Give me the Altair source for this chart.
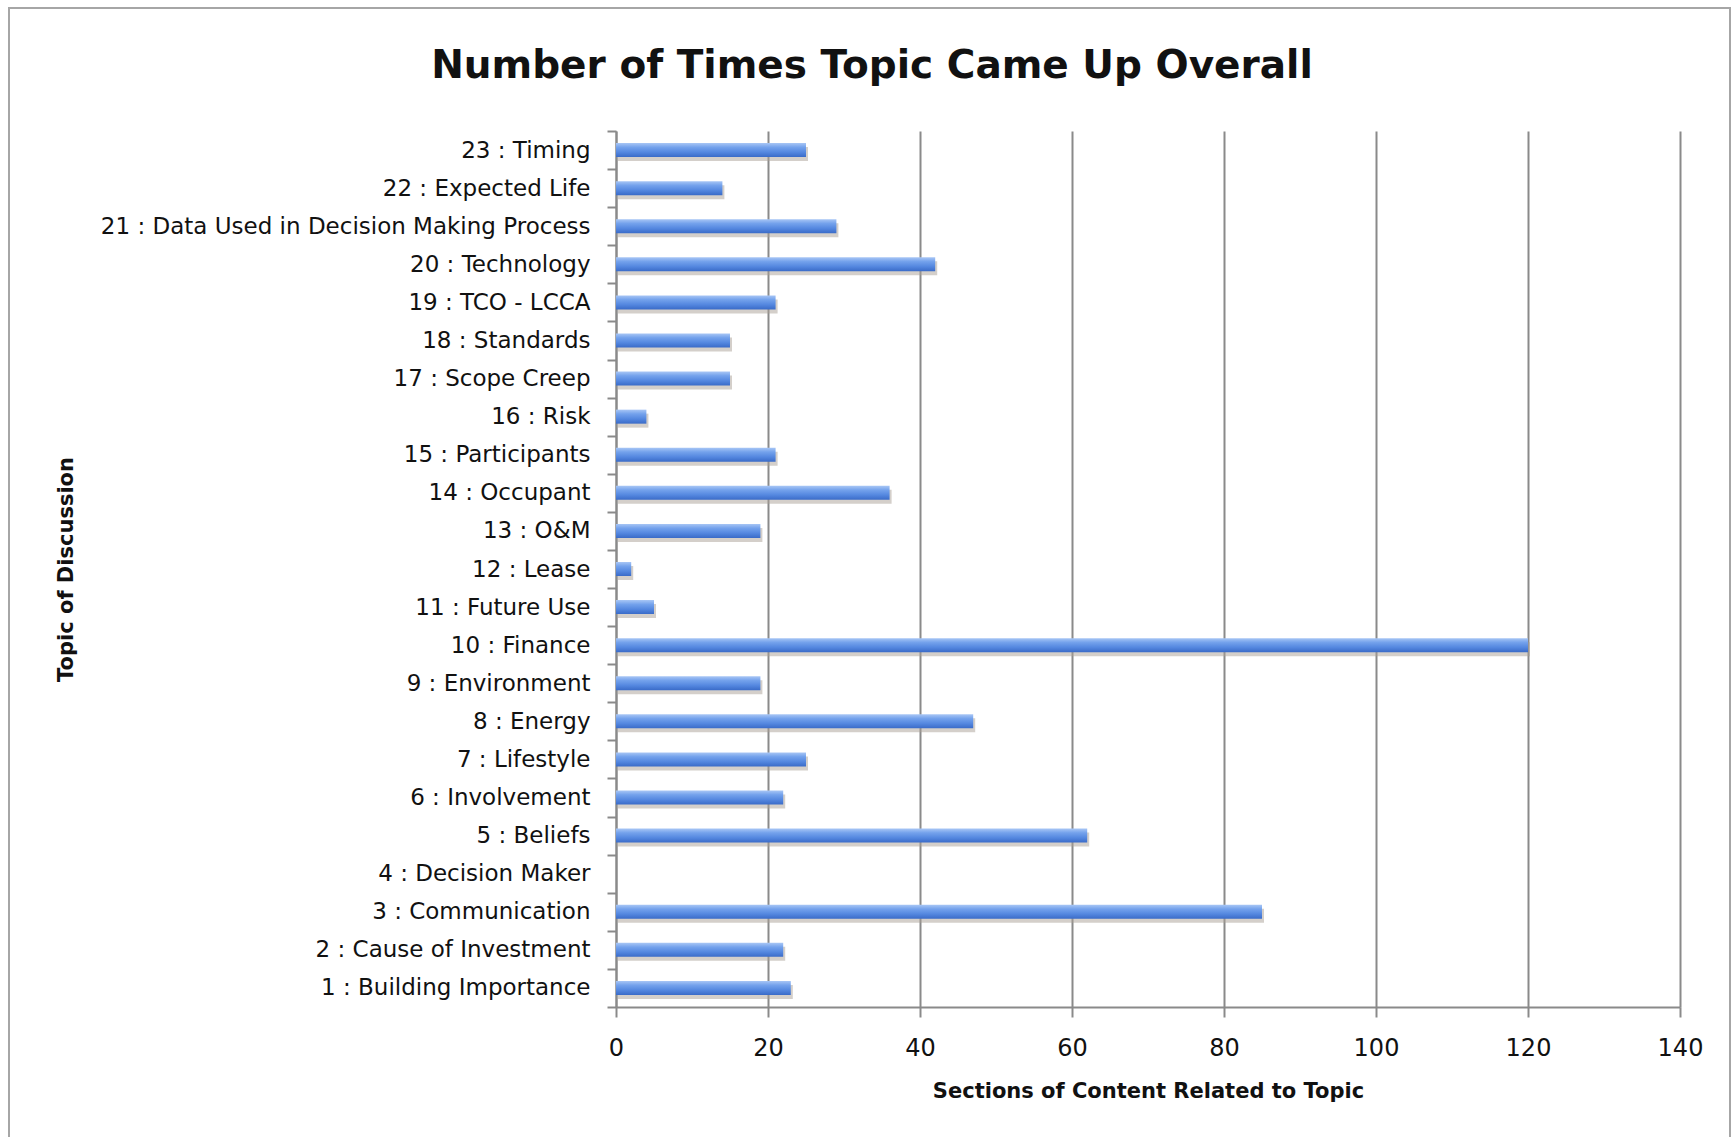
import altair as alt
import pandas as pd

topics = ["1 : Building Importance", "2 : Cause of Investment", "3 : Communication",
          "4 : Decision Maker", "5 : Beliefs", "6 : Involvement", "7 : Lifestyle",
          "8 : Energy", "9 : Environment", "10 : Finance", "11 : Future Use",
          "12 : Lease", "13 : O&M", "14 : Occupant", "15 : Participants", "16 : Risk",
          "17 : Scope Creep", "18 : Standards", "19 : TCO - LCCA", "20 : Technology",
          "21 : Data Used in Decision Making Process", "22 : Expected Life", "23 : Timing"]
counts = [23, 22, 85, 0, 62, 22, 25, 47, 19, 120, 5, 2, 19, 36, 21, 4, 15, 15, 21, 42, 29, 14, 25]
x_ticks = [0, 20, 40, 60, 80, 100, 120, 140]

df = pd.DataFrame({"topic": topics, "count": counts})
order = topics[::-1]

FONT = "DejaVu Sans"
GRID = "#8a8a8a"

x_enc = alt.X("count:Q", scale=alt.Scale(domain=[0, 140], nice=False),
              axis=alt.Axis(values=x_ticks, title="Sections of Content Related to Topic",
                            grid=True, gridColor=GRID, gridWidth=2,
                            domainColor=GRID, domainWidth=2, tickColor=GRID, tickWidth=2,
                            tickSize=10, labelFontSize=24, labelPadding=19, labelFlush=False,
                            labelColor="#111111", labelFont=FONT,
                            titleFont=FONT, titleFontSize=21, titleFontWeight="bold",
                            titleColor="#111111", titlePadding=20))
y_enc = alt.Y("topic:N", sort=order, scale=alt.Scale(paddingInner=0, paddingOuter=0),
              axis=alt.Axis(title="Topic of Discussion", tickBand="extent",
                            domainColor=GRID, domainWidth=2, tickColor=GRID, tickWidth=2,
                            tickSize=9, labelFontSize=23, labelPadding=17,
                            labelColor="#111111", labelFont=FONT, labelLimit=0,
                            titleFont=FONT, titleFontSize=21, titleFontWeight="bold",
                            titleColor="#111111", titleAngle=270, titleX=-550, titleY=438,
                            titleAlign="center", titleBaseline="middle", grid=False))

base = alt.Chart(df)

shadow = base.mark_bar(size=14, color="#aaa096", opacity=0.5, yOffset=4, xOffset=2).encode(
    x=x_enc, y=y_enc)

grad = alt.Gradient(gradient="linear", x1=0, y1=0, x2=0, y2=1,
                    stops=[alt.GradientStop(color="#a8c6f5", offset=0),
                           alt.GradientStop(color="#74a2ec", offset=0.3),
                           alt.GradientStop(color="#5588e0", offset=0.65),
                           alt.GradientStop(color="#3a6bc8", offset=1)])
bars = base.mark_bar(size=14, color=grad).encode(x=x_enc, y=y_enc)

frame = alt.Chart(pd.DataFrame({"f": [0]})).mark_rect(
    fillOpacity=0, stroke="#a6a6a6", strokeWidth=2).encode(
    x=alt.value(-607), x2=alt.value(1114), y=alt.value(-123), y2=alt.value(1010))

chart = alt.layer(frame, shadow, bars).properties(
    width=1064, height=876,
    title=alt.TitleParams("Number of Times Topic Came Up Overall", font=FONT, fontSize=39,
                          fontWeight="bold", color="#111111", anchor="middle", dx=-276,
                          baseline="alphabetic", offset=0, dy=110),
    autosize=alt.AutoSizeParams(type="none"),
    padding={"left": 616, "top": 131, "right": 52, "bottom": 130},
    background="white",
).configure_view(stroke=None)

chart.save("out.html", embed_options={"renderer": "svg", "actions": False})
